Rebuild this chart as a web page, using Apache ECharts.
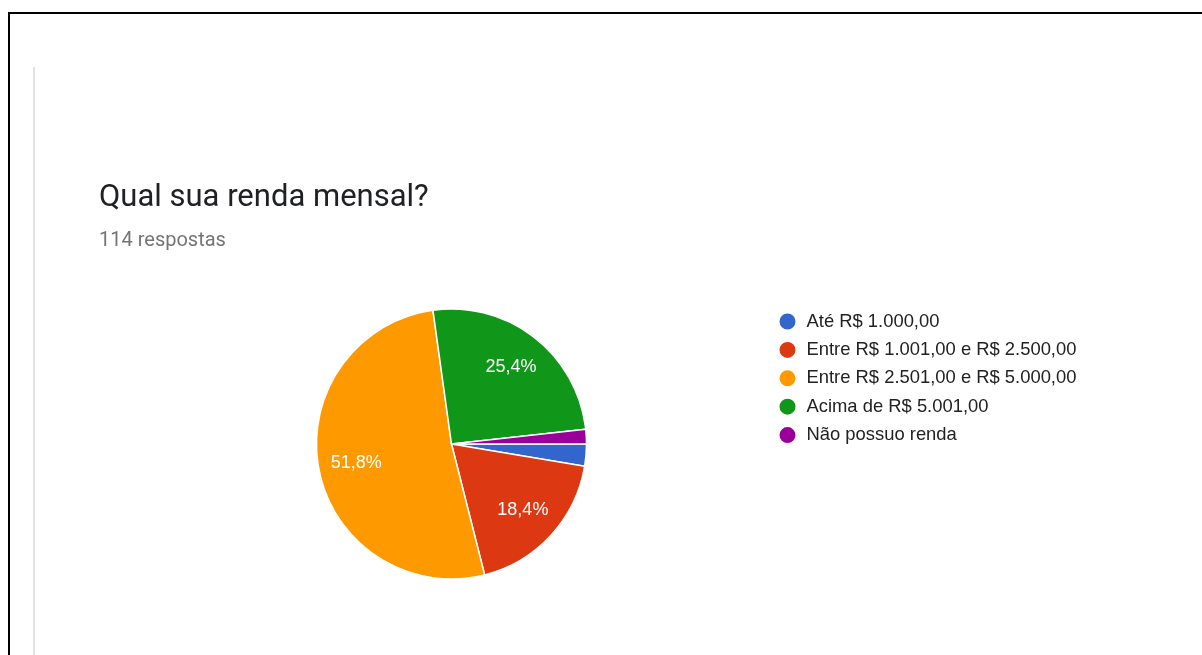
<!DOCTYPE html>
<html>
<head>
<meta charset="utf-8">
<style>
  html, body { margin: 0; padding: 0; background: #ffffff; }
  #chart { width: 1202px; height: 655px; }
</style>
<script src="https://cdn.jsdelivr.net/npm/echarts@6/dist/echarts.min.js"></script>
</head>
<body>
<div id="chart"></div>
<script>
// Answers to "Qual sua renda mensal?" (114 respostas)
const categories = [
  'Até R$ 1.000,00',
  'Entre R$ 1.001,00 e R$ 2.500,00',
  'Entre R$ 2.501,00 e R$ 5.000,00',
  'Acima de R$ 5.001,00',
  'Não possuo renda'
];
const counts = [3, 21, 59, 29, 2];
const titleText = 'Qual sua renda mensal?';
const subtitleText = '114 respostas';

const palette = ['#3366cc', '#dc3912', '#ff9900', '#109618', '#990099'];
const total = counts.reduce((a, b) => a + b, 0);
const pct = v => (v / total * 100).toFixed(1).replace('.', ',') + '%';

const chart = echarts.init(document.getElementById('chart'));

const sliceData = categories.map((name, i) => ({
  name, value: counts[i], itemStyle: { color: palette[i] }
}));

// Labels sit on a transparent ring so they land at ~0.69 of the radius;
// slices too thin to hold text stay unlabelled.
const labelData = categories.map((name, i) => ({
  name, value: counts[i],
  label: { show: counts[i] / total > 0.05 }
}));

chart.setOption({
  animation: false,
  color: palette,
  title: {
    text: titleText,
    subtext: subtitleText,
    left: 99,
    top: 183,
    padding: 0,
    itemGap: 17,
    textStyle: { fontFamily: 'Roboto', fontSize: 31, fontWeight: 'normal', color: '#202124' },
    subtextStyle: { fontFamily: 'Roboto', fontSize: 20, color: '#757575' }
  },
  legend: {
    orient: 'vertical',
    left: 777.5,
    top: 311.5,
    padding: 0,
    icon: 'circle',
    itemWidth: 18,
    itemHeight: 18,
    itemGap: 8.4,
    data: categories,
    textStyle: {
      fontFamily: 'Liberation Sans, Arial', fontSize: 18.4,
      color: '#222222', padding: [0, 0, 0, 5]
    }
  },
  graphic: [
    { type: 'line', shape: { x1: 8, y1: 13, x2: 1202, y2: 13 }, style: { stroke: '#000000', lineWidth: 2 }, silent: true },
    { type: 'line', shape: { x1: 9, y1: 12, x2: 9, y2: 655 }, style: { stroke: '#000000', lineWidth: 2 }, silent: true },
    { type: 'line', shape: { x1: 34, y1: 67, x2: 34, y2: 655 }, style: { stroke: '#e3e3e3', lineWidth: 2 }, silent: true }
  ],
  series: [
    {
      type: 'pie',
      center: [451.5, 444],
      radius: [0, 135],
      startAngle: 0,
      clockwise: true,
      data: sliceData,
      label: { show: false },
      labelLine: { show: false },
      itemStyle: { borderColor: '#ffffff', borderWidth: 1.5 },
      emphasis: { disabled: true }
    },
    {
      type: 'pie',
      center: [451.5, 444],
      radius: [52, 136],
      startAngle: 0,
      clockwise: true,
      silent: true,
      data: labelData,
      itemStyle: { color: 'rgba(0,0,0,0)' },
      labelLine: { show: false },
      label: {
        position: 'inside',
        fontFamily: 'Liberation Sans, Arial',
        fontSize: 18,
        color: '#ffffff',
        formatter: p => pct(p.value)
      },
      emphasis: { disabled: true }
    }
  ]
});
</script>
</body>
</html>
